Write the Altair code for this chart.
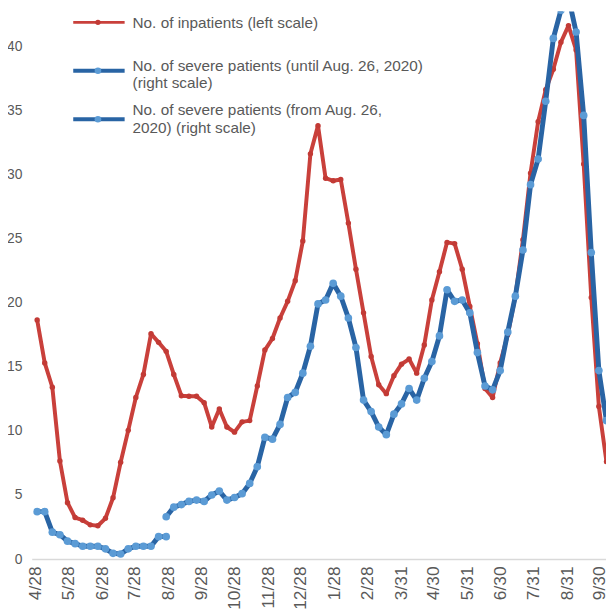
import altair as alt
import pandas as pd
from datetime import date, timedelta

# ---------------- data ----------------
start = date(2020, 4, 29)
weeks = list(range(76))
dates = [(start + timedelta(weeks=i)).isoformat() for i in weeks]

inpatients = [18.65, 15.3, 13.4, 7.65, 4.4, 3.24, 3.03, 2.67, 2.6, 3.18,
              4.78, 7.55, 10.04, 12.6, 14.4, 17.57, 16.9, 16.2, 14.4, 12.74,
              12.7, 12.7, 12.2, 10.3, 11.7, 10.3, 9.9, 10.7, 10.8, 13.5,
              16.3, 17.2, 18.8, 20.1, 21.7, 24.8, 31.6, 33.8, 29.7, 29.5,
              29.6, 26.2, 22.6, 19.2, 15.8, 13.6, 12.9, 14.3, 15.2, 15.6,
              14.5, 16.7, 20.2, 22.4, 24.7, 24.6, 22.6, 19.7, 16.8, 13.3,
              12.6, 15.3, 17.5, 20.5, 24.9, 30.1, 34.1, 36.6, 38.2, 40.3,
              41.6, 39.7, 30.8, 20.4, 11.9, 7.6]

# severe patients, old definition (until Aug. 26, 2020) -> weeks 0..17
severe_old = [3.7, 3.7, 2.1, 1.9, 1.4, 1.2, 1.0, 1.0, 1.0, 0.8,
              0.45, 0.4, 0.8, 1.0, 1.0, 1.0, 1.75, 1.75]

# severe patients, new definition (from Aug. 26, 2020) -> weeks 17..75
severe_new = [3.3, 4.05, 4.25, 4.5, 4.6, 4.5, 5.0, 5.3, 4.6, 4.8,
              5.1, 5.9, 7.2, 9.5, 9.35, 10.5, 12.6, 13.0, 14.5, 16.6,
              19.9, 20.2, 21.5, 20.5, 18.8, 16.5, 12.4, 11.5, 10.3, 9.7,
              11.3, 12.1, 13.3, 12.4, 14.1, 15.4, 17.4, 21.0, 20.1, 20.2,
              19.2, 16.1, 13.5, 13.2, 14.7, 17.7, 20.5, 24.1, 29.2, 31.2,
              35.7, 40.6, 42.8, 43.8, 41.1, 34.6, 23.9, 14.7, 10.8]

tick_dates = [(2020, 4, 28), (2020, 5, 28), (2020, 6, 28), (2020, 7, 28),
              (2020, 8, 28), (2020, 9, 28), (2020, 10, 28), (2020, 11, 28),
              (2020, 12, 28), (2021, 1, 28), (2021, 2, 28), (2021, 3, 31),
              (2021, 4, 30), (2021, 5, 31), (2021, 6, 30), (2021, 7, 31),
              (2021, 8, 31), (2021, 9, 30)]
y_ticks = [0, 5, 10, 15, 20, 25, 30, 35, 40]

legend_labels = [
    ["No. of inpatients (left scale)"],
    ["No. of severe patients (until Aug. 26, 2020)", "(right scale)"],
    ["No. of severe patients (from Aug. 26,", "2020) (right scale)"],
]

# ---------------- styles ----------------
RED = "#C9403B"
RED_PT = "#C23A35"
BLUE = "#2964A4"
BLUE_PT = "#5B9BD5"
GRAY = "#595959"
FONT = "Liberation Sans"

df_red = pd.DataFrame({"date": dates, "value": inpatients})
df_old = pd.DataFrame({"date": dates[:18], "value": severe_old})
df_new = pd.DataFrame({"date": dates[17:], "value": severe_new})

x_enc = alt.X(
    "date:T",
    scale=alt.Scale(
        type="utc",
        domain=[alt.DateTime(year=2020, month=4, date=24, utc=True),
                alt.DateTime(year=2021, month=10, date=5, hours=14, utc=True)],
        nice=False,
    ),
    axis=alt.Axis(
        values=[alt.DateTime(year=y, month=m, date=d, utc=True) for (y, m, d) in tick_dates],
        format="%-m/%-d",
        labelAngle=-90,
        labelFontSize=17.5,
        labelFont=FONT,
        labelColor=GRAY,
        labelPadding=7,
        labelOverlap=False,
        labelFlush=False,
        labelBound=False,
        ticks=False,
        grid=False,
        domainColor="#D9D9D9",
        domainWidth=1.5,
        title=None,
    ),
)
y_enc = alt.Y(
    "value:Q",
    scale=alt.Scale(domain=[0, 42.7], nice=False, zero=True),
    axis=alt.Axis(
        values=y_ticks,
        labelFontSize=14,
        labelFont=FONT,
        labelColor=GRAY,
        labelPadding=10,
        ticks=False,
        grid=False,
        domain=False,
        title=None,
    ),
)


def series(df, line_color, line_w, pt_color, pt_size):
    line = alt.Chart(df).mark_line(
        color=line_color, strokeWidth=line_w, clip=True, strokeJoin="round"
    ).encode(x=x_enc, y=y_enc)
    pts = alt.Chart(df).mark_circle(
        color=pt_color, size=pt_size, opacity=1, clip=True
    ).encode(x=x_enc, y=y_enc)
    return line + pts


red = series(df_red, RED, 4, RED_PT, 30)
old = series(df_old, BLUE, 5, BLUE_PT, 60)
new = series(df_new, BLUE, 5, BLUE_PT, 60)

# ---------------- custom legend (pixel positions inside the plot) ----------------
sym_y = [11, 60, 109]
text_y = [[12], [55, 72], [100, 118]]
sym_color = [RED, BLUE, BLUE]
dot_color = [RED_PT, BLUE_PT, BLUE_PT]
sym_w = [3, 4, 4]
dot_s = [30, 45, 45]

leg_rules = pd.DataFrame({"x1": [42] * 3, "x2": [94] * 3, "y": sym_y,
                          "c": sym_color, "w": sym_w})
leg_dots = pd.DataFrame({"x": [67] * 3, "y": sym_y, "c": dot_color, "s": dot_s})
rows = []
for k, lines in enumerate(legend_labels):
    for j, t in enumerate(lines):
        rows.append({"x": 102, "y": text_y[k][j], "t": t})
leg_text = pd.DataFrame(rows)

rules = alt.Chart(leg_rules).mark_rule().encode(
    x=alt.X("x1:Q", scale=None, axis=None),
    x2="x2:Q",
    y=alt.Y("y:Q", scale=None, axis=None),
    color=alt.Color("c:N", scale=None, legend=None),
    strokeWidth=alt.StrokeWidth("w:Q", scale=None, legend=None),
)
dots = alt.Chart(leg_dots).mark_circle(opacity=1).encode(
    x=alt.X("x:Q", scale=None, axis=None),
    y=alt.Y("y:Q", scale=None, axis=None),
    color=alt.Color("c:N", scale=None, legend=None),
    size=alt.Size("s:Q", scale=None, legend=None),
)
texts = alt.Chart(leg_text).mark_text(
    align="left", baseline="middle", font=FONT, fontSize=15.5, color=GRAY
).encode(
    x=alt.X("x:Q", scale=None, axis=None),
    y=alt.Y("y:Q", scale=None, axis=None),
    text="t:N",
)

chart = alt.layer(red, old, new, rules, dots, texts).properties(
    width=581,
    height=554,
    autosize=alt.AutoSizeParams(type="none"),
    padding={"left": 24, "top": 0, "right": 0, "bottom": 51},
    background="white",
).configure_view(stroke=None)

chart.save("out.html", embed_options={"renderer": "svg", "actions": False})
